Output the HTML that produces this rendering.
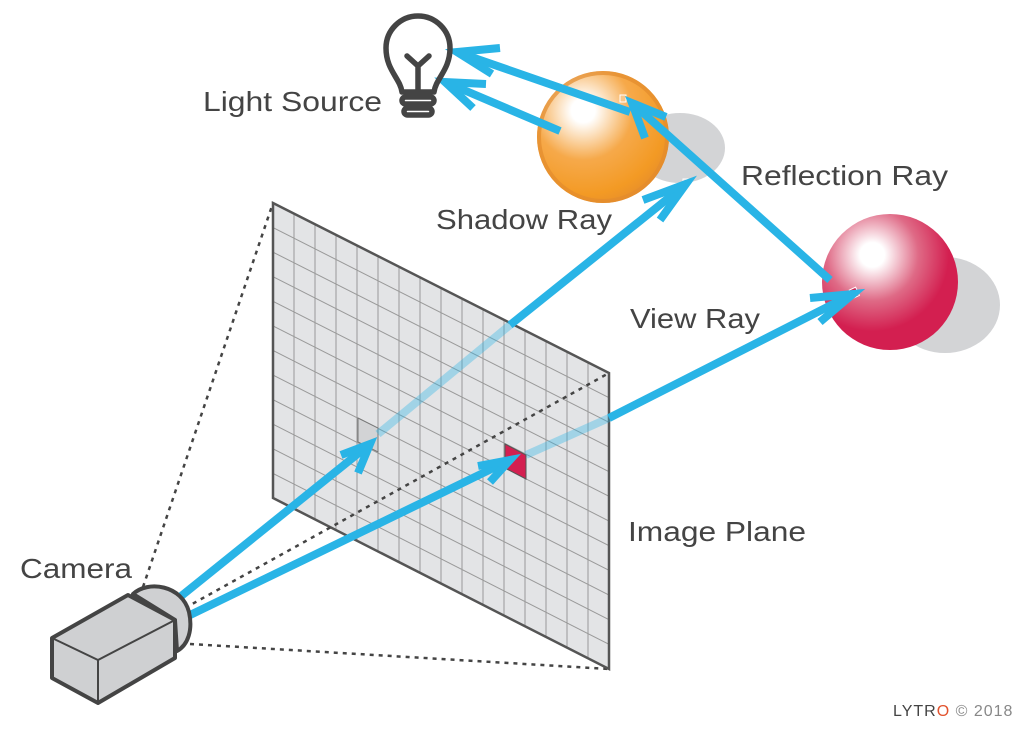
<!DOCTYPE html>
<html><head><style>
body{margin:0;background:#fff;}
svg{display:block;font-family:"Liberation Sans",sans-serif;}
text{fill:#444;}
</style></head><body>
<svg width="1024" height="729" viewBox="0 0 1024 729" xmlns="http://www.w3.org/2000/svg">
<defs>
<radialGradient id="og" cx="0.35" cy="0.3" r="0.75">
<stop offset="0" stop-color="#fff"/><stop offset="0.12" stop-color="#fff"/>
<stop offset="0.5" stop-color="#f6a94a"/><stop offset="0.85" stop-color="#f39a24"/><stop offset="1" stop-color="#e88f2a"/>
</radialGradient>
<radialGradient id="rg" cx="0.37" cy="0.3" r="0.75">
<stop offset="0" stop-color="#fff"/><stop offset="0.12" stop-color="#fff"/>
<stop offset="0.45" stop-color="#df6a86"/><stop offset="0.75" stop-color="#d31f50"/><stop offset="1" stop-color="#d31f50"/>
</radialGradient>
<clipPath id="pc"><polygon points="273,203 609,373 609,669 273,498"/></clipPath>
</defs>

<ellipse cx="680" cy="148" rx="45" ry="35" fill="#d3d4d6"/>
<ellipse cx="945" cy="305" rx="55" ry="48" fill="#d3d4d6"/>

<g stroke="#444" stroke-width="2.5" stroke-dasharray="4,5" fill="none">
<line x1="143" y1="587" x2="273" y2="203"/>
<line x1="190" y1="644" x2="609" y2="669"/>
</g>

<polygon points="273,203 609,373 609,669 273,498" fill="#e3e4e6"/>
<g stroke="#999" stroke-width="1" clip-path="url(#pc)" id="grid"></g>
<polygon points="358,418 378,428 378,452 358,442" fill="#d2d3d5" stroke="#777" stroke-width="1"/>
<polygon points="505,444 526,455 526,479 505,468" fill="#d31f50" stroke="#555" stroke-width="1"/>
<polygon points="273,203 609,373 609,669 273,498" fill="none" stroke="#555" stroke-width="2.5"/>
<line x1="185" y1="608" x2="609" y2="373" stroke="#444" stroke-width="2.5" stroke-dasharray="4,5"/>

<g stroke="#29b4e6" stroke-width="8" opacity="0.35">
<line x1="378" y1="434" x2="510" y2="325"/>
<line x1="526" y1="455" x2="609" y2="418"/>
</g>

<circle cx="603" cy="137" r="66" fill="url(#og)"/>
<circle cx="603" cy="137" r="64" fill="none" stroke="#e28c2e" stroke-width="4" opacity="0.7"/>
<circle cx="890" cy="282" r="68" fill="url(#rg)"/>
<rect x="851" y="288" width="7" height="9" fill="#d31f50" stroke="#fff" stroke-width="1" transform="rotate(-25 855 293)"/>
<rect x="683" y="179" width="6" height="7" fill="#ddd" stroke="#fff" stroke-width="1"/>
<rect x="620" y="95" width="6" height="7" fill="#f8c68a" stroke="#fff" stroke-width="1"/>

<g stroke="#29b4e6" stroke-width="8" fill="none">
<line x1="180" y1="597" x2="370" y2="444"/>
<polyline points="341,455 370,444 358,473"/>
<line x1="186" y1="617" x2="510" y2="460"/>
<polyline points="478,466 510,460 490,482"/>
<line x1="510" y1="325" x2="686" y2="184"/>
<polyline points="643,200 686,184 660,220"/>
<line x1="609" y1="418" x2="853" y2="294"/>
<polyline points="810,298 853,294 820,322"/>
<line x1="830" y1="280" x2="632" y2="103"/>
<polyline points="645,138 632,103 666,117"/>
<line x1="630" y1="112" x2="457" y2="52"/>
<polyline points="500,48 457,52 492,74"/>
<line x1="560" y1="131" x2="445" y2="82"/>
<polyline points="486,84 445,82 473,108"/>
</g>

<g stroke="#444" stroke-width="5.5" fill="none" stroke-linecap="round" stroke-linejoin="round">
<path d="M402,92 C400,78 386,70 386,48 A32,32 0 1 1 450,48 C450,70 436,78 434,92 Z"/>
<path d="M418,90 V66 M418,66 L407,56 M418,66 L429,56"/>
<rect x="402" y="97" width="32" height="7" rx="3.5"/>
<rect x="404" y="108" width="28" height="7" rx="3.5"/>
</g>

<!-- camera -->
<path d="M133,594 C148,580 182,585 189,612 C193,630 188,645 177,651 L175,620 Z" fill="#cfd0d2" stroke="#444" stroke-width="4" stroke-linejoin="round"/>
<polygon points="52,638 128,595 175,620 175,658 98,703 52,678" fill="#cfd0d2" stroke="#444" stroke-width="4" stroke-linejoin="round"/>
<g stroke="#444" stroke-width="2" fill="none">
<polyline points="52,638 98,660 175,620"/>
<line x1="98" y1="660" x2="98" y2="703"/>
</g>

<g font-size="28">
<text x="203" y="111" textLength="179" lengthAdjust="spacingAndGlyphs">Light Source</text>
<text x="436" y="229" textLength="176" lengthAdjust="spacingAndGlyphs">Shadow Ray</text>
<text x="741" y="185" textLength="207" lengthAdjust="spacingAndGlyphs">Reflection Ray</text>
<text x="630" y="328" textLength="130" lengthAdjust="spacingAndGlyphs">View Ray</text>
<text x="628" y="541" textLength="178" lengthAdjust="spacingAndGlyphs">Image Plane</text>
<text x="20" y="578" textLength="112" lengthAdjust="spacingAndGlyphs">Camera</text>
</g>
<text x="893" y="716" font-size="16" fill="#555" style="letter-spacing:1px">LYTR<tspan fill="#e2532e">O</tspan> <tspan fill="#888">© 2018</tspan></text>

<script>
(function(){
var g=document.getElementById('grid'),ns='http://www.w3.org/2000/svg';
var A=[273,203],B=[609,373],C=[609,669],D=[273,498];
function L(p,q){var l=document.createElementNS(ns,'line');l.setAttribute('x1',p[0]);l.setAttribute('y1',p[1]);l.setAttribute('x2',q[0]);l.setAttribute('y2',q[1]);g.appendChild(l);}
function lerp(p,q,t){return [p[0]+(q[0]-p[0])*t,p[1]+(q[1]-p[1])*t];}
for(var i=1;i<16;i++){var t=i/16;L(lerp(A,B,t),lerp(D,C,t));}
for(var j=1;j<12;j++){var s=j/12;L(lerp(A,D,s),lerp(B,C,s));}
})();
</script>
</svg>
</body></html>
